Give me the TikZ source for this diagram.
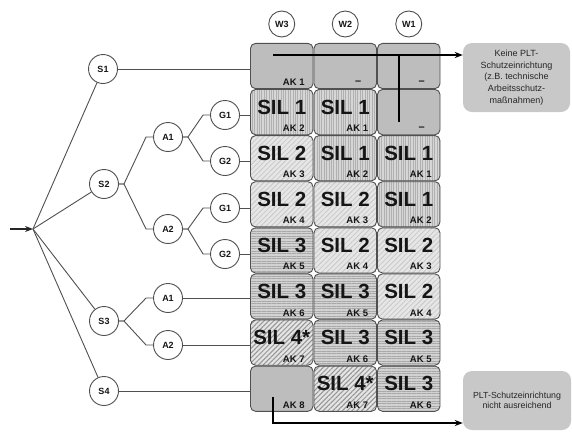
\documentclass[tikz,border=0pt]{standalone}
\usepackage{fontspec}
\setmainfont{Liberation Sans}
\usetikzlibrary{patterns.meta,arrows.meta,calc}
\definecolor{ln}{HTML}{505050}
\definecolor{cplain}{HTML}{BDBDBD}
\definecolor{cv}{HTML}{D6D6D6}
\definecolor{cvl}{HTML}{B0B0B0}
\definecolor{cd}{HTML}{E6E6E6}
\definecolor{cdl}{HTML}{C8C8C8}
\definecolor{ch}{HTML}{D2D2D2}
\definecolor{chl}{HTML}{A8A8A8}
\definecolor{cf}{HTML}{E4E4E4}
\definecolor{cfl}{HTML}{959595}
\definecolor{cbox}{HTML}{C8C8C8}
\definecolor{txt}{HTML}{151515}
\tikzset{
  cell/.style={draw=ln, line width=0.9pt, rounded corners=5pt, minimum width=62.5pt, minimum height=45.2pt, inner sep=0pt},
  plain/.style={fill=cplain},
  vst/.style={preaction={fill=cv}, pattern={Lines[angle=90,distance=2.4pt,line width=0.45pt]}, pattern color=cvl},
  dst/.style={preaction={fill=cd}, pattern={Lines[angle=45,distance=3.6pt,line width=0.8pt]}, pattern color=cdl},
  hst/.style={preaction={fill=ch}, pattern={Lines[angle=0,distance=2.5pt,line width=0.45pt]}, pattern color=chl},
  fst/.style={preaction={fill=cf}, pattern={Lines[angle=45,distance=3.4pt,line width=1pt]}, pattern color=cfl},
  siltxt/.style={anchor=base, inner sep=0pt, text=txt, font=\fontsize{20.5}{20.5}\selectfont\bfseries},
  aktxt/.style={anchor=base east, inner sep=0pt, text=txt, font=\fontsize{9.5}{9.5}\selectfont\bfseries},
  dashtxt/.style={anchor=base, inner sep=0pt, text=txt, font=\fontsize{11}{11}\selectfont\bfseries},
  tnode/.style={circle, draw=ln, line width=0.9pt, fill=white, minimum size=29pt, inner sep=0pt, text=txt, font=\fontsize{9}{9}\selectfont\bfseries},
  wnode/.style={tnode, minimum size=26pt},
  tline/.style={draw=ln, line width=0.9pt},
  bline/.style={draw=black, line width=1.6pt},
  infobox/.style={fill=cbox, rounded corners=9pt, inner sep=0pt, align=center, text=black!85}
}
\newcommand\silcell[6]{%
  \node[cell,#4] (#1) at (#2,#3) {};
  \node[siltxt] (#1s) at ($(#1.center)+(0,2)$) {#5};
  \node[aktxt] (#1a) at ($(#1.center)+(23,19.5)$) {#6};
}
\newcommand\akcell[4]{%
  \node[cell,plain] (#1) at (#2,#3) {};
  \node[aktxt] (#1a) at ($(#1.center)+(23,19.5)$) {#4};
}
\newcommand\dashcell[3]{%
  \node[cell,plain] (#1) at (#2,#3) {};
  \node[dashtxt] (#1a) at ($(#1.center)+(13,18)$) {\textendash};
}
\begin{document}
\begin{tikzpicture}[x=1pt,y=-1pt]
\useasboundingbox (0,0) rectangle (572,431);
\fill[white] (0,0) rectangle (572,431);

% headers
\node[wnode] (W3) at (281.75,24) {W3};
\node[wnode] (W2) at (345.25,24) {W2};
\node[wnode] (W1) at (408.75,24) {W1};

% grid
\akcell{w3r1}{281.75}{66}{AK 1}
\dashcell{w2r1}{345.25}{66}
\dashcell{w1r1}{408.75}{66}

\silcell{w3r2}{281.75}{112.1}{vst}{SIL 1}{AK 2}
\silcell{w2r2}{345.25}{112.1}{vst}{SIL 1}{AK 1}
\dashcell{w1r2}{408.75}{112.1}

\silcell{w3r3}{281.75}{158.2}{dst}{SIL 2}{AK 3}
\silcell{w2r3}{345.25}{158.2}{vst}{SIL 1}{AK 2}
\silcell{w1r3}{408.75}{158.2}{vst}{SIL 1}{AK 1}

\silcell{w3r4}{281.75}{204.3}{dst}{SIL 2}{AK 4}
\silcell{w2r4}{345.25}{204.3}{dst}{SIL 2}{AK 3}
\silcell{w1r4}{408.75}{204.3}{vst}{SIL 1}{AK 2}

\silcell{w3r5}{281.75}{250.4}{hst}{SIL 3}{AK 5}
\silcell{w2r5}{345.25}{250.4}{dst}{SIL 2}{AK 4}
\silcell{w1r5}{408.75}{250.4}{dst}{SIL 2}{AK 3}

\silcell{w3r6}{281.75}{296.5}{hst}{SIL 3}{AK 6}
\silcell{w2r6}{345.25}{296.5}{hst}{SIL 3}{AK 5}
\silcell{w1r6}{408.75}{296.5}{dst}{SIL 2}{AK 4}

\silcell{w3r7}{281.75}{342.6}{fst}{SIL 4*}{AK 7}
\silcell{w2r7}{345.25}{342.6}{hst}{SIL 3}{AK 6}
\silcell{w1r7}{408.75}{342.6}{hst}{SIL 3}{AK 5}

\akcell{w3r8}{281.75}{388.7}{AK 8}
\silcell{w2r8}{345.25}{388.7}{fst}{SIL 4*}{AK 7}
\silcell{w1r8}{408.75}{388.7}{hst}{SIL 3}{AK 6}

% info boxes
\node[infobox, minimum width=107pt, minimum height=69pt, font=\fontsize{9}{11.7}\selectfont] (box1) at (516.5,77.5)
  {Keine PLT-\\Schutzeinrichtung\\(z.B. technische\\Arbeitsschutz-\\maßnahmen)};
\node[infobox, minimum width=108pt, minimum height=59pt, font=\fontsize{8.8}{10.5}\selectfont] (box2) at (517,400.5)
  {PLT-Schutzeinrichtung\\nicht ausreichend};

% tree
\coordinate (in) at (10,229);
\coordinate (J) at (33,229);
\node[tnode] (S1) at (103,69) {S1};
\node[tnode] (S2) at (104,184) {S2};
\node[tnode] (S3) at (104,321) {S3};
\node[tnode] (S4) at (104,391) {S4};
\node[tnode] (A1) at (168,137) {A1};
\node[tnode] (A2) at (168,229) {A2};
\node[tnode] (G1) at (225,115) {G1};
\node[tnode] (G2) at (225,161) {G2};
\node[tnode] (G1b) at (225,208) {G1};
\node[tnode] (G2b) at (225,254) {G2};
\node[tnode] (A1b) at (168,298) {A1};
\node[tnode] (A2b) at (168,345) {A2};

\draw[tline, -{Stealth[length=8pt,width=6pt]}, line width=1.2pt, draw=black!85] (in) -- (J);
\foreach \n in {S1,S2,S3,S4} \draw[tline] (J) -- (\n);
\draw[tline] (S2.east) -- ++(5,0) -- ($(A1.west)+(-7,0)$) -- (A1.west);
\draw[tline] (S2.east) -- ++(5,0) -- ($(A2.west)+(-7,0)$) -- (A2.west);
\draw[tline] (A1.east) -- ++(5,0) -- ($(G1.west)+(-7,0)$) -- (G1.west);
\draw[tline] (A1.east) -- ++(5,0) -- ($(G2.west)+(-7,0)$) -- (G2.west);
\draw[tline] (A2.east) -- ++(5,0) -- ($(G1b.west)+(-7,0)$) -- (G1b.west);
\draw[tline] (A2.east) -- ++(5,0) -- ($(G2b.west)+(-7,0)$) -- (G2b.west);
\draw[tline] (S3.east) -- ++(5,0) -- ($(A1b.west)+(-7,0)$) -- (A1b.west);
\draw[tline] (S3.east) -- ++(5,0) -- ($(A2b.west)+(-7,0)$) -- (A2b.west);

\draw[tline] (S1.east) -- (S1.east -| w3r1.west);
\draw[tline] (G1.east) -- (G1.east -| w3r2.west);
\draw[tline] (G2.east) -- (G2.east -| w3r3.west);
\draw[tline] (G1b.east) -- (G1b.east -| w3r4.west);
\draw[tline] (G2b.east) -- (G2b.east -| w3r5.west);
\draw[tline] (A1b.east) -- (A1b.east -| w3r6.west);
\draw[tline] (A2b.east) -- (A2b.east -| w3r7.west);
\draw[tline] (S4.east) -- (S4.east -| w3r8.west);

% black outcome lines
\coordinate (t0) at (273,55);
\coordinate (v0) at (399,55);
\coordinate (v1) at (399,122);
\coordinate (b0) at (273,397);
\coordinate (b1) at (273,423);
\draw[bline, -{Stealth[length=8pt,width=6pt]}] (t0) -- (t0 -| box1.west);
\draw[bline] (v0) -- (v1);
\draw[bline, -{Stealth[length=8pt,width=6pt]}] (b0) -- (b1) -- (b1 -| box2.west);
\end{tikzpicture}
\end{document}
